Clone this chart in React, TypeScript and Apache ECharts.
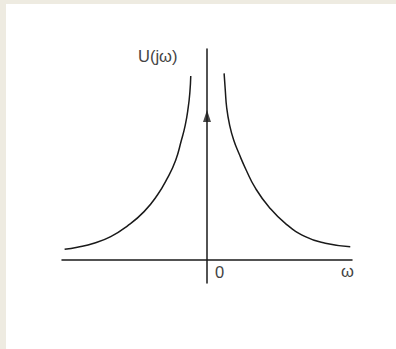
import React, { useEffect, useRef } from "react";
import * as echarts from "echarts";

// Left branch of U(jω) for ω < 0 : [ω, U]
const leftBranch: [number, number][] = [
  [-4.91, 0.44],
  [-4.47, 0.53],
  [-3.9, 0.7],
  [-3.32, 0.98],
  [-2.74, 1.44],
  [-2.17, 2.05],
  [-1.71, 2.76],
  [-1.37, 3.47],
  [-1.08, 4.25],
  [-0.89, 5.07],
  [-0.75, 5.75],
  [-0.65, 6.48],
  [-0.59, 7.16],
  [-0.56, 7.85],
];
// Right branch of U(jω) for ω > 0 : [ω, U]
const rightBranch: [number, number][] = [
  [0.59, 7.96],
  [0.63, 7.25],
  [0.68, 6.48],
  [0.78, 5.75],
  [0.92, 5.11],
  [1.11, 4.51],
  [1.35, 3.83],
  [1.67, 3.05],
  [2.13, 2.26],
  [2.7, 1.55],
  [3.39, 0.98],
  [4.08, 0.7],
  [4.94, 0.55],
];
// Arrow head on the vertical axis : [ω, U]
const arrowHead: [number, number][] = [[0, 6.14]];

const axisLabels = { y: "U(jω)", origin: "0", x: "ω" };

const INK = "#1a1a1a";
const TEXT = "#444444";
const FONT = "'Liberation Sans', Arial, sans-serif";
const FS = 16.5;

export default function App() {
  const ref = useRef<HTMLDivElement>(null);

  useEffect(() => {
    if (!ref.current) return;
    const chart = echarts.init(ref.current, undefined, { renderer: "svg" });
    chart.setOption({
      animation: false,
      backgroundColor: "transparent",
      grid: { left: 62, right: 44, top: 49, bottom: 66 },
      xAxis: {
        type: "value",
        min: -5,
        max: 5,
        axisLine: { show: true, onZero: true, lineStyle: { color: INK, width: 1.5 } },
        axisTick: { show: false },
        axisLabel: { show: false },
        splitLine: { show: false },
      },
      yAxis: {
        type: "value",
        min: -1,
        max: 9,
        axisLine: { show: true, onZero: true, lineStyle: { color: INK, width: 1.5 } },
        axisTick: { show: false },
        axisLabel: { show: false },
        splitLine: { show: false },
      },
      series: [
        {
          type: "line",
          data: leftBranch,
          smooth: 0.5,
          showSymbol: false,
          lineStyle: { color: INK, width: 1.5 },
        },
        {
          type: "line",
          data: rightBranch,
          smooth: 0.5,
          showSymbol: false,
          lineStyle: { color: INK, width: 1.5 },
        },
        {
          type: "scatter",
          data: arrowHead,
          symbol: "triangle",
          symbolSize: [8, 12],
          itemStyle: { color: INK },
          z: 5,
        },
      ],
      graphic: [
        {
          type: "text",
          left: 138,
          top: 47,
          style: { text: axisLabels.y, fill: TEXT, font: `${FS}px ${FONT}` },
        },
        {
          type: "text",
          left: 215,
          top: 263,
          style: { text: axisLabels.origin, fill: TEXT, font: `${FS}px ${FONT}` },
        },
        {
          type: "text",
          left: 341,
          top: 262,
          style: { text: axisLabels.x, fill: TEXT, font: `${FS}px ${FONT}` },
        },
      ],
    });
    return () => chart.dispose();
  }, []);

  return (
    <div
      style={{
        position: "absolute",
        left: 0,
        top: 0,
        width: 396,
        height: 349,
        background: "#eeebe1",
      }}
    >
      <div
        style={{
          position: "absolute",
          left: 6,
          top: 4,
          width: 390,
          height: 345,
          background: "#ffffff",
        }}
      />
      <div
        ref={ref}
        style={{ position: "absolute", left: 0, top: 0, width: 396, height: 349 }}
      />
    </div>
  );
}
